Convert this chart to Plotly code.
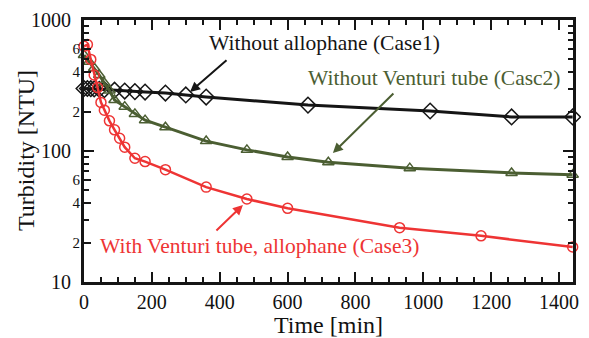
import plotly.graph_objects as go

# ---- data ----
t_case1 = [0, 10, 20, 30, 45, 60, 90, 120, 150, 180, 240, 300, 360, 660, 1020, 1260, 1440]
v_case1 = [300, 300, 299, 298, 296, 294, 291, 287, 284, 282, 277, 268, 258, 224, 202, 182, 182]

t_case2 = [0, 15, 30, 45, 60, 75, 90, 120, 150, 180, 240, 360, 480, 600, 720, 960, 1260, 1440]
v_case2 = [540, 480, 430, 380, 330, 290, 245, 218, 192, 172, 152, 119, 102, 90, 82, 74, 68, 66]

t_case3 = [0, 10, 20, 30, 40, 50, 60, 75, 90, 105, 120, 150, 180, 240, 360, 480, 600, 930, 1170, 1440]
v_case3 = [630, 650, 500, 380, 305, 235, 205, 170, 145, 125, 107, 88, 83, 72, 53, 43, 36.5, 26, 22.5, 18.5]

x_ticks = [0, 200, 400, 600, 800, 1000, 1200, 1400]
x_minor = list(range(50, 1441, 50))
y_major = [10, 100, 1000]
y_major_text = ["10", "100", "1000"]
y_minor = [20, 30, 40, 50, 60, 70, 80, 90, 200, 300, 400, 500, 600, 700, 800, 900]
y_sub = [20, 40, 60, 200, 400, 600]
y_sub_text = ["2", "4", "6", "2", "4", "6"]

label1 = "Without allophane (Case1)"
label2 = "Without Venturi tube (Casc2)"
label3 = "With Venturi tube, allophane (Case3)"
y_title = "Turbidity [NTU]"
x_title = "Time [min]"

BLACK = "#151515"
GREEN = "#4b5e32"
RED = "#ee3434"
FONT = "Liberation Serif"

fig = go.Figure()
fig.add_trace(go.Scatter(
    x=t_case1, y=v_case1, mode="lines+markers", cliponaxis=False,
    line=dict(color=BLACK, width=3),
    marker=dict(symbol="diamond-open", size=12, color=BLACK, line=dict(width=1.5, color=BLACK)),
))
fig.add_trace(go.Scatter(
    x=t_case2, y=v_case2, mode="lines+markers", cliponaxis=False,
    line=dict(color=GREEN, width=3),
    marker=dict(symbol="triangle-up-open", size=10, color=GREEN, line=dict(width=1.5, color=GREEN)),
))
fig.add_trace(go.Scatter(
    x=t_case3, y=v_case3, mode="lines+markers", cliponaxis=False,
    line=dict(color=RED, width=2.5),
    marker=dict(symbol="circle-open", size=10, color=RED, line=dict(width=1.5, color=RED)),
))
# invisible trace to carry the secondary (sub-decade label) axis
fig.add_trace(go.Scatter(x=[None], y=[None], yaxis="y2", showlegend=False, hoverinfo="skip"))

axis_common = dict(showgrid=False, zeroline=False, showline=True, linewidth=3,
                   linecolor=BLACK, ticks="inside", tickwidth=2, tickcolor=BLACK,
                   mirror="ticks", automargin=False)

# the page body adds an 8px offset, so the figure is sized to fit the 589x338 window
fig.update_layout(
    template="none",
    width=581, height=330,
    margin=dict(l=76, r=16, t=12, b=56),
    paper_bgcolor="white", plot_bgcolor="white",
    showlegend=False,
    font=dict(family=FONT, color="#111"),
    xaxis=dict(
        range=[0, 1441], tickmode="array", tickvals=x_ticks, ticklen=10,
        tickfont=dict(size=20, family=FONT, color="#111"),
        minor=dict(tickvals=x_minor, ticks="inside", ticklen=5, tickwidth=2, tickcolor=BLACK),
        title=dict(text=x_title, font=dict(size=24, family=FONT, color="#111"), standoff=7),
        **axis_common,
    ),
    yaxis=dict(
        type="log", range=[1, 3], tickmode="array", tickvals=y_major, ticktext=y_major_text,
        ticklen=10, ticklabelstandoff=6,
        tickfont=dict(size=20, family=FONT, color="#111"),
        minor=dict(tickvals=y_minor, ticks="inside", ticklen=5, tickwidth=2, tickcolor=BLACK),
        **axis_common,
    ),
    yaxis2=dict(
        type="log", range=[1, 3], overlaying="y", side="left", tickmode="array",
        tickvals=y_sub, ticktext=y_sub_text, ticks="inside", ticklen=7, tickwidth=2,
        tickcolor=BLACK, showline=False, showgrid=False, zeroline=False,
        ticklabelstandoff=3, automargin=False,
        tickfont=dict(size=15, family=FONT, color="#111"),
    ),
)

fig.add_annotation(text=y_title, xref="paper", yref="paper", x=-0.1186, y=0.5,
                   xanchor="center", yanchor="middle", textangle=-90, showarrow=False,
                   font=dict(size=24, family=FONT, color="#111"))

fig.add_annotation(text=label1, xref="paper", yref="paper", x=0.492, y=0.912,
                   xanchor="center", yanchor="middle",
                   showarrow=False, font=dict(size=21.5, family=FONT, color=BLACK))
fig.add_annotation(text=label2, xref="paper", yref="paper", x=0.717, y=0.779,
                   xanchor="center", yanchor="middle",
                   showarrow=False, font=dict(size=21.5, family=FONT, color=GREEN))
fig.add_annotation(text=label3, xref="paper", yref="paper", x=0.359, y=0.137,
                   xanchor="center", yanchor="middle",
                   showarrow=False, font=dict(size=21.5, family=FONT, color=RED))

# arrows
fig.add_annotation(text="", xref="paper", yref="paper", x=0.2168, y=0.725, ax=38, ay=-33,
                   showarrow=True, arrowhead=2, arrowsize=1, arrowwidth=2, arrowcolor=BLACK, standoff=0)
fig.add_annotation(text="", xref="paper", yref="paper", x=0.509, y=0.492, ax=62, ay=-61,
                   showarrow=True, arrowhead=2, arrowsize=1, arrowwidth=2, arrowcolor=GREEN, standoff=0)
fig.add_annotation(text="", xref="paper", yref="paper", x=0.325, y=0.294, ax=-28, ay=27,
                   showarrow=True, arrowhead=2, arrowsize=1, arrowwidth=2, arrowcolor=RED, standoff=0)

fig.write_html("out.html")
